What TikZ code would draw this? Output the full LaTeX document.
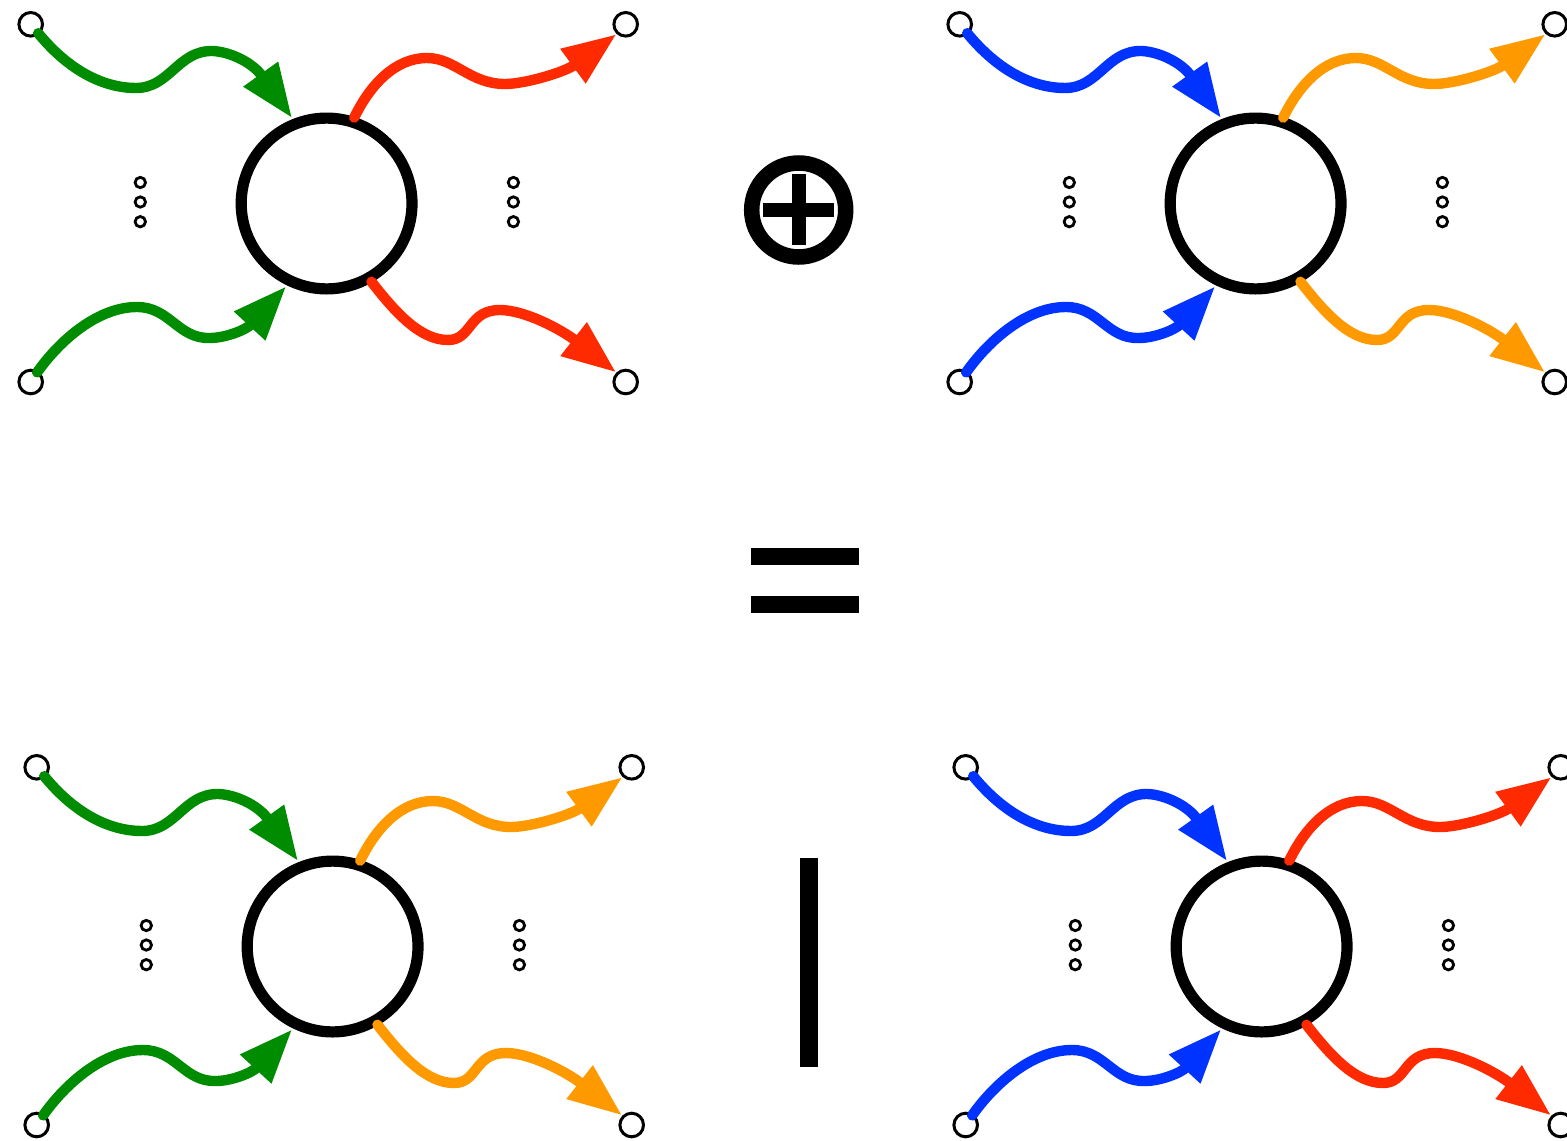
\documentclass[tikz,border=0pt]{standalone}
\usetikzlibrary{arrows.meta}
\definecolor{wgreen}{HTML}{008C00}
\definecolor{wred}{HTML}{FF2A00}
\definecolor{wblue}{HTML}{0033FF}
\definecolor{worange}{HTML}{FF9900}
\tikzset{
  hub/.style    = {draw, circle, line width=5.6pt, inner sep=0pt, minimum size=85.4pt, outer sep=3.4pt},
  leg/.style    = {draw, circle, line width=1.5pt, inner sep=0pt, minimum size=11.8pt, outer sep=0.9pt},
  dotnode/.style= {draw, circle, line width=1.4pt, inner sep=0pt, minimum size=5.2pt},
  wave/.style   = {line width=5.2pt, line cap=round, shorten <=-1pt, -{Triangle[length=27pt,width=20pt]}},
  bar/.style    = {fill=black, inner sep=0pt, outer sep=0pt},
}
\begin{document}
\begin{tikzpicture}[x=0.5pt,y=-0.5pt]
\useasboundingbox (0,0) rectangle (1567,1140);
\foreach \p/\ox/\oy/\colin/\colout in {A/0/0/wgreen/wred, B/929/0/wblue/worange, C/6/743/wgreen/worange, D/935/743/wblue/wred}{
\begin{scope}[shift={(\ox,\oy)}]
  \node[hub] (\p-hub) at (326.6,203.5) {};
  \node[leg] (\p-ul) at (30.7,24.3) {};
  \node[leg] (\p-ll) at (30.7,382) {};
  \node[leg] (\p-ur) at (625.7,24.3) {};
  \node[leg] (\p-lr) at (625.7,382) {};
  \foreach \y [count=\i] in {182.5,202,221.7}{
    \node[dotnode] (\p-ldot\i) at (140.3,\y) {};
    \node[dotnode] (\p-rdot\i) at (513.4,\y) {};}
  % incoming lines
  \draw[wave,\colin] (\p-ul.310) .. controls (70,72) and (105,88) .. (136,88)
    .. controls (170,88) and (178,50) .. (213,51) .. controls (230,52) and (252,62) .. (\p-hub.112.3);
  \draw[wave,\colin] (\p-ll.56) .. controls (60,340) and (98,307) .. (137,307)
    .. controls (170,307) and (178,339) .. (210,338) .. controls (225,338) and (246,330) .. (\p-hub.244.1);
  % outgoing lines
  \draw[wave,\colout] (\p-hub.72.8) .. controls (370,85) and (395,58) .. (427,58)
    .. controls (455,58) and (470,84) .. (505,84) .. controls (525,84) and (565,72) .. (\p-ur.227.8);
  \draw[wave,\colout] (\p-hub.300) .. controls (395,312) and (420,340) .. (448,340)
    .. controls (472,340) and (468,310) .. (500,310) .. controls (525,310) and (562,330) .. (\p-lr.135);
\end{scope}}
% direct sum sign
\node[draw, circle, line width=7.75pt, inner sep=0pt, minimum size=47pt] (ring) at (798.7,210) {};
\node[bar, minimum width=35.4pt, minimum height=7.3pt] (plush) at (798.7,210) {};
\node[bar, minimum width=7pt, minimum height=35.5pt] (plusv) at (798.7,209.8) {};
% equals sign
\node[bar, minimum width=54pt, minimum height=8.5pt] (eqtop) at (805,556.5) {};
\node[bar, minimum width=54pt, minimum height=8.5pt] (eqbot) at (805,604.5) {};
% separator
\node[bar, minimum width=9pt, minimum height=104.5pt] (sep) at (809,962.5) {};
\end{tikzpicture}
\end{document}
